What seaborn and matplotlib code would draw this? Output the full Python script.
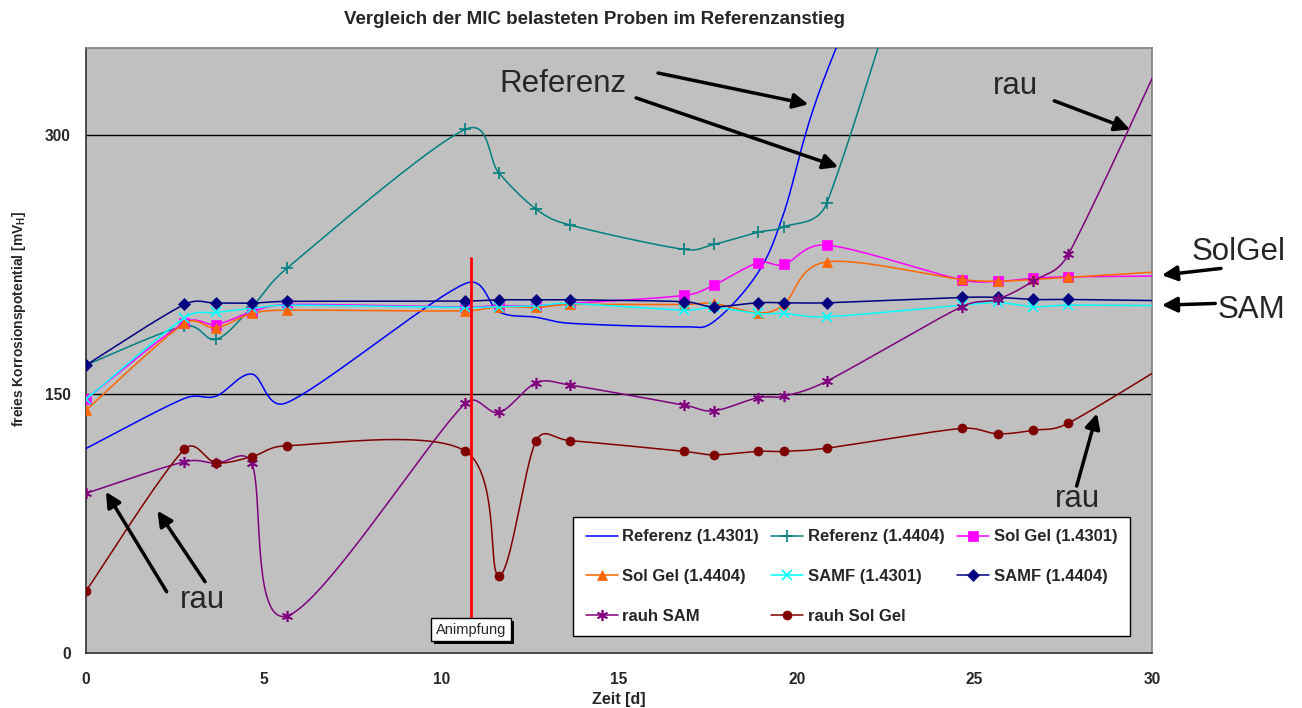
import numpy as np
import pandas as pd
import matplotlib
matplotlib.use("Agg")
import matplotlib.pyplot as plt
import matplotlib.patheffects as pe
from matplotlib.lines import Line2D
import seaborn as sns

nan = np.nan

# ---------------- data ----------------
time_d = [0, 2.77, 3.66, 4.66, 5.65, 10.67, 11.63, 12.67, 13.63, 16.84,
          17.67, 18.90, 19.64, 20.85, 24.64, 25.66, 26.65, 27.65, 31.5]

ref_4301 = [118.5, 147.5, 148.8, 161.6, 145.0, 214.0, 197.5, 194.5, 191.0, 189.0,
            192.0, 220.0, 255.0, 337.0, 520.0, nan, nan, nan, nan]
ref_4404 = [166.8, 189.4, 181.7, 200.2, 222.8, 303.3, 277.8, 257.1, 247.9, 233.8,
            236.7, 243.7, 246.9, 260.8, 510.0, nan, nan, nan, nan]
solgel_4301 = [147.1, 191.3, 190.3, 197.7, 201.9, 200.4, 201.2, 201.2, 202.5, 207.2,
               213.1, 226.0, 225.1, 236.3, 216.2, 215.3, 217.1, 217.9, 218.6]
solgel_4404 = [140.7, 190.9, 188.4, 196.7, 198.6, 198.2, 200.6, 200.2, 201.9, 201.9,
               202.5, 197.1, 201.9, 226.6, 216.4, 215.4, 216.4, 217.6, 222.5]
samf_4301 = [146.9, 194.2, 197.3, 199.6, 201.5, 200.2, 200.6, 201.2, 202.5, 198.6,
             200.2, 196.7, 196.7, 194.8, 201.5, 203.1, 200.6, 201.5, 201.0]
samf_4404 = [166.8, 201.9, 202.7, 202.7, 203.7, 203.9, 204.6, 204.6, 204.6, 203.5,
             200.6, 202.9, 202.9, 202.9, 206.0, 206.0, 204.8, 204.8, 203.8]
rauh_sam = [92.5, 110.8, 109.9, 110.2, 21.4, 144.6, 139.4, 156.5, 155.2, 143.6,
            140.3, 147.9, 148.8, 157.5, 200.6, 205.0, 215.4, 231.1, 400.0]
rauh_solgel = [35.9, 118.0, 110.2, 113.7, 120.1, 117.0, 44.8, 123.0, 123.0, 116.8,
               114.8, 116.8, 116.8, 118.7, 130.1, 127.0, 129.0, 133.2, 181.0]

series_names = ["Referenz (1.4301)", "Referenz (1.4404)", "Sol Gel (1.4301)",
                "Sol Gel (1.4404)", "SAMF (1.4301)", "SAMF (1.4404)",
                "rauh SAM", "rauh Sol Gel"]
series_values = [ref_4301, ref_4404, solgel_4301, solgel_4404,
                 samf_4301, samf_4404, rauh_sam, rauh_solgel]

# ---------------- styles ----------------
colors = {"Referenz (1.4301)": "#0000FF", "Referenz (1.4404)": "#008080",
          "Sol Gel (1.4301)": "#FF00FF", "Sol Gel (1.4404)": "#FF6600",
          "SAMF (1.4301)": "#00FFFF", "SAMF (1.4404)": "#000080",
          "rauh SAM": "#800080", "rauh Sol Gel": "#800000"}
markers = {"Referenz (1.4301)": None, "Referenz (1.4404)": "+",
           "Sol Gel (1.4301)": "s", "Sol Gel (1.4404)": "^",
           "SAMF (1.4301)": "x", "SAMF (1.4404)": "D",
           "rauh SAM": (6, 2, 0), "rauh Sol Gel": "o"}
msizes = {"Referenz (1.4301)": 6, "Referenz (1.4404)": 8, "Sol Gel (1.4301)": 6.5,
          "Sol Gel (1.4404)": 7.5, "SAMF (1.4301)": 7, "SAMF (1.4404)": 6,
          "rauh SAM": 8, "rauh Sol Gel": 6.5}
LINE_MARKERS = ("+", "x", (6, 2, 0))

# long table of points
rows = []
for name, vals in zip(series_names, series_values):
    for t, v in zip(time_d, vals):
        rows.append({"series": name, "t": t, "v": v})
points = pd.DataFrame(rows).dropna()

# ---------------- figure ----------------
sns.set_style("white")
plt.rcParams["font.family"] = ["Liberation Sans", "DejaVu Sans"]

fig = plt.figure(figsize=(13.02, 7.08), dpi=100)
ax = fig.add_axes([86 / 1302, 1 - 653 / 708, (1152 - 86) / 1302, (653 - 48) / 708])
ax.set_facecolor("#C0C0C0")
ax.set_xlim(0, 30)
ax.set_ylim(0, 350.5)


def smooth(x, y, n=40):
    """Excel-like smoothed line: Bezier segments with 1/6 tension,
    control arms capped at half the segment length (in screen space)."""
    p = ax.transData.transform(np.column_stack([x, y]))
    out = []
    m = len(p)
    s = np.linspace(0, 1, n)[:, None]
    for i in range(m - 1):
        p0 = p[i - 1] if i > 0 else p[i]
        p1, p2 = p[i], p[i + 1]
        p3 = p[i + 2] if i + 2 < m else p[i + 1]
        d12 = np.linalg.norm(p2 - p1)
        a1 = (p2 - p0) / 6.0
        a2 = (p3 - p1) / 6.0
        for a in (a1, a2):
            la = np.linalg.norm(a)
            if la > d12 / 2 and la > 0:
                a *= (d12 / 2) / la
        b1 = p1 + a1
        b2 = p2 - a2
        c = ((1 - s) ** 3) * p1 + 3 * ((1 - s) ** 2) * s * b1 + 3 * (1 - s) * s ** 2 * b2 + s ** 3 * p2
        out.append(c if i == 0 else c[1:])
    return ax.transData.inverted().transform(np.vstack(out))


curve_rows = []
for name in series_names:
    d = points[points.series == name]
    c = smooth(d.t.values, d.v.values)
    for k, (cx, cy) in enumerate(c):
        curve_rows.append({"series": name, "x": cx, "y": cy, "k": k})
curves = pd.DataFrame(curve_rows)

# gridlines
for g in (150, 300):
    ax.axhline(g, color="black", lw=1.0, zorder=1)

for i, name in enumerate(series_names):
    sub = curves[curves.series == name]
    sns.lineplot(data=sub, x="x", y="y", sort=False, estimator=None,
                 color=colors[name], lw=1.1, ax=ax, legend=False, zorder=3 + i)
    if markers[name] is not None:
        d = points[points.series == name]
        ax.plot(d.t, d.v, ls="none", marker=markers[name], ms=msizes[name],
                color=colors[name], mec=colors[name],
                mew=1.2 if markers[name] in LINE_MARKERS else 0.5,
                zorder=3 + i + 0.5)

# axes styling
for sp in ("top", "right"):
    ax.spines[sp].set_color("#808080")
    ax.spines[sp].set_linewidth(1.2)
for sp in ("left", "bottom"):
    ax.spines[sp].set_color("#303030")
    ax.spines[sp].set_linewidth(1.2)

ax.set_xticks(range(0, 31, 5))
ax.set_yticks([0, 150, 300])
ax.tick_params(axis="both", direction="out", length=6, width=1, color="#303030",
               labelsize=11.2)
ax.tick_params(axis="y", pad=5)
ax.tick_params(axis="x", pad=8)
for lab in ax.get_xticklabels() + ax.get_yticklabels():
    lab.set_fontweight("bold")

ax.set_xlabel("Zeit [d]", fontsize=11.5, fontweight="bold", labelpad=3)
ax.set_ylabel("freies Korrosionspotential [mV$_\\mathregular{H}$]", fontsize=10,
              fontweight="bold")
ax.yaxis.set_label_coords(-0.054, 0.552)

fig.text(594 / 1302, 1 - 20 / 708, "Vergleich der MIC belasteten Proben im Referenzanstieg",
         ha="center", va="center", fontsize=13.5, fontweight="bold")

# ---------------- annotations ----------------
arrow_kw = dict(arrowstyle="-|>,head_length=0.9,head_width=0.45", lw=2.5, color="black",
                shrinkA=0, shrinkB=0)


def arrow(tail, tip):
    ax.annotate("", xy=tip, xytext=tail, arrowprops=arrow_kw, annotation_clip=False,
                zorder=20)


ax.text(13.43, 325.1, "Referenz", fontsize=22.5, ha="center", va="baseline", zorder=20)
arrow((16.1, 336.0), (20.33, 317.9))
arrow((15.48, 321.6), (21.17, 281.6))

ax.text(26.16, 323.6, "rau", fontsize=22.5, ha="center", va="baseline", zorder=20)
arrow((27.25, 319.9), (29.38, 303.3))

ax.text(32.44, 227.6, "SolGel", fontsize=22.5, ha="center", va="baseline", clip_on=False)
arrow((31.94, 222.8), (30.28, 218.9))
ax.text(32.81, 193.8, "SAM", fontsize=22.5, ha="center", va="baseline", clip_on=False)
arrow((31.78, 202.5), (30.28, 201.5))

ax.text(27.9, 84.7, "rau", fontsize=22.5, ha="center", va="baseline", zorder=20)
arrow((27.88, 96.7), (28.45, 138.8))

ax.text(3.28, 26.2, "rau", fontsize=22.5, ha="center", va="baseline", zorder=20)
arrow((2.27, 35.5), (0.56, 93.4))
arrow((3.35, 41.3), (2.01, 82.4))

# Animpfung
ax.plot([10.83, 10.83], [21.0, 228.6], color="#FF0000", lw=2, zorder=15)
t = ax.text(10.84, 13.6, "Animpfung", fontsize=10.5, ha="center", va="center", zorder=21,
            bbox=dict(boxstyle="square,pad=0.32", fc="white", ec="black", lw=1))
t.get_bbox_patch().set_path_effects([pe.withSimplePatchShadow(offset=(2, -2),
                                                              shadow_rgbFace="black",
                                                              alpha=1.0)])

# ---------------- legend (row-wise order as in the reference) ----------------
handles = {}
for name in series_names:
    m = markers[name]
    handles[name] = Line2D([], [], color=colors[name], lw=1.1,
                           marker=m if m is not None else "",
                           ms=msizes[name], mec=colors[name],
                           mew=1.2 if m in LINE_MARKERS else 0.5)
order = [0, 3, 6, 1, 4, 7, 2, 5]
leg_names = [series_names[i] for i in order]
leg = ax.legend([handles[n] for n in leg_names], leg_names, ncol=3, loc="upper left",
                bbox_to_anchor=((573 - 86) / 1066, (653 - 517) / 605),
                frameon=True, fancybox=False, framealpha=1, edgecolor="black",
                prop=dict(weight="bold", size=12), handlelength=1.92,
                borderaxespad=0, columnspacing=0.72, handletextpad=0.3,
                labelspacing=1.48, borderpad=0.75)
leg.get_frame().set_linewidth(1.0)
leg.set_zorder(30)

fig.savefig("out.png", dpi=100, facecolor="white")
